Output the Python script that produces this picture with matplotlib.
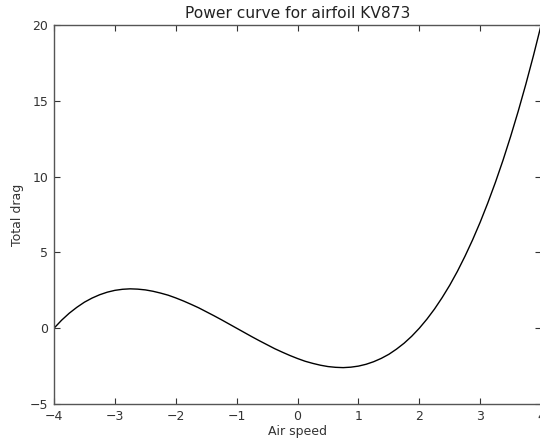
import matplotlib
matplotlib.use("Agg")
import matplotlib.pyplot as plt

# values at steps of 0.125
air_speed = [-4.0, -3.875, -3.75, -3.625, -3.5, -3.375, -3.25, -3.125,
             -3.0, -2.875, -2.75, -2.625, -2.5, -2.375, -2.25, -2.125,
             -2.0, -1.875, -1.75, -1.625, -1.5, -1.375, -1.25, -1.125,
             -1.0, -0.875, -0.75, -0.625, -0.5, -0.375, -0.25, -0.125,
             0.0, 0.125, 0.25, 0.375, 0.5, 0.625, 0.75, 0.875,
             1.0, 1.125, 1.25, 1.375, 1.5, 1.625, 1.75, 1.875,
             2.0, 2.125, 2.25, 2.375, 2.5, 2.625, 2.75, 2.875,
             3.0, 3.125, 3.25, 3.375, 3.5, 3.625, 3.75, 3.875, 4.0]
total_drag = [0.0, 0.53, 0.99, 1.38, 1.72, 1.99, 2.21, 2.38,
              2.5, 2.57, 2.6, 2.58, 2.53, 2.44, 2.32, 2.18,
              2.0, 1.8, 1.58, 1.35, 1.09, 0.83, 0.56, 0.28,
              0.0, -0.28, -0.56, -0.83, -1.09, -1.35, -1.58, -1.8,
              -2.0, -2.18, -2.32, -2.44, -2.53, -2.58, -2.6, -2.57,
              -2.5, -2.38, -2.21, -1.99, -1.72, -1.38, -0.99, -0.53,
              0.0, 0.6, 1.27, 2.02, 2.84, 3.75, 4.75, 5.83,
              7.0, 8.27, 9.63, 11.09, 12.66, 14.33, 16.11, 18.0, 20.0]

x_ticks = [-4, -3, -2, -1, 0, 1, 2, 3, 4]
y_ticks = [-5, 0, 5, 10, 15, 20]


def lab(t):
    return "\u2212" + str(abs(t)) if t < 0 else str(t)


fig = plt.figure(figsize=(5.4, 4.42), dpi=100)
ax = fig.add_axes([0.1, 0.086, 0.902, 0.857])
ax.plot(air_speed, total_drag, color="black", linewidth=1.0)

ax.set_xlim(-4, 4)
ax.set_ylim(-5, 20)
ax.set_xticks(x_ticks)
ax.set_yticks(y_ticks)
ax.set_xticklabels([lab(t) for t in x_ticks])
ax.set_yticklabels([lab(t) for t in y_ticks])
ax.tick_params(direction="in", top=True, right=True, length=4, width=0.8,
               labelsize=9, colors="#333333", pad=4)
for s in ax.spines.values():
    s.set_color("#555555")
    s.set_linewidth(1.0)
ax.spines["right"].set_visible(False)

ax.set_title("Power curve for airfoil KV873", fontsize=11.2, color="#222222", pad=5)
ax.set_xlabel("Air speed", fontsize=9, color="#333333", labelpad=2)
ax.set_ylabel("Total drag", fontsize=9, color="#333333", labelpad=4)

fig.savefig("out.png", dpi=100)
